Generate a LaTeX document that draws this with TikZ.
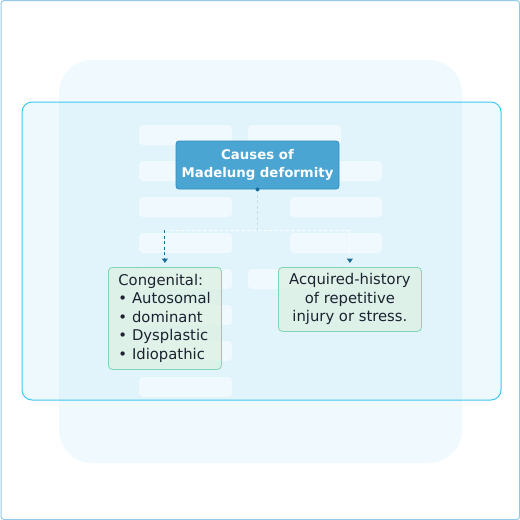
\documentclass[tikz,border=0pt]{standalone}
\usepackage{fontspec}
\setmainfont{DejaVu Sans}
\usetikzlibrary{arrows.meta,calc}
\definecolor{framec}{HTML}{92C8E8}
\definecolor{bgpanel}{HTML}{F0F9FD}
\definecolor{widefill}{RGB}{170,225,245}
\definecolor{wideline}{HTML}{3CC8F0}
\definecolor{titlefill}{HTML}{45A2D2}
\definecolor{titleline}{HTML}{2F8CBE}
\definecolor{childfill}{RGB}{220,240,225}
\definecolor{childline}{HTML}{80D6B4}
\definecolor{txt}{HTML}{1C2230}
\definecolor{darkc}{HTML}{1A6F9A}
\definecolor{lightc}{HTML}{C2DCE8}
\tikzset{
  ghost/.style={fill=white, fill opacity=0.5, draw=none, rounded corners=4pt},
  titlebox/.style={fill=titlefill, fill opacity=0.96, draw=titleline, line width=0.8pt,
    rounded corners=3pt, text opacity=1, text=white, align=center,
    font=\fontsize{13.3}{18}\selectfont\bfseries, minimum width=163pt, minimum height=48pt, inner sep=0pt},
  childbox/.style={fill=childfill, fill opacity=0.7, draw=childline, draw opacity=1, line width=0.8pt,
    rounded corners=4pt, text opacity=1, text=txt,
    font=\fontsize{14.8}{18.5}\selectfont, inner sep=0pt},
  darkdash/.style={draw=darkc, line width=1pt, dash pattern=on 3pt off 2.5pt},
  lightdash/.style={draw=lightc, line width=1pt, dash pattern=on 3pt off 2.5pt},
  whitedash/.style={draw=white, draw opacity=0.85, line width=1pt, dash pattern=on 3pt off 2.5pt},
  tip/.style={-{Triangle[width=6pt,length=4.5pt,fill=darkc,color=darkc]}, shorten >=4pt},
}
\begin{document}
\begin{tikzpicture}[x=1pt,y=-1pt]
\useasboundingbox (0,0) rectangle (520,520);
% outer frame
\draw[framec, line width=1pt, rounded corners=3pt] (1,0.5) rectangle (519.5,519.5);
% background panel
\fill[bgpanel, rounded corners=33pt] (59,60) rectangle (462,463);
% wide panel
\fill[widefill, fill opacity=0.2, rounded corners=10pt] (22,102) rectangle (501,400);
\draw[wideline, line width=1pt, rounded corners=10pt] (22,102) rectangle (501,400);
% ghost boxes, left column
\foreach \yy in {125,161,197,233,269,305,341,377}
  \fill[ghost] (139,\yy) rectangle (232,\yy+20);
% ghost boxes, right column
\fill[ghost] (248,125) rectangle (341,145);
\foreach \yy in {161,197,233}
  \fill[ghost] (290,\yy) rectangle (382,\yy+20);
\fill[ghost] (248,269) rectangle (341,289);
% nodes
\node[titlebox] (title) at (257.5,165) {Causes of\\Madelung deformity};
\node[childbox, anchor=north west, minimum width=113pt, minimum height=102pt,
  text width=113pt, align=left, inner xsep=0pt] (cong) at (108,267)
  {\hspace*{10pt}Congenital:\\\hspace*{10pt}• Autosomal\\\hspace*{10pt}• dominant\\\hspace*{10pt}• Dysplastic\\\hspace*{10pt}• Idiopathic};
\node[childbox, anchor=north west, minimum width=143pt, minimum height=64pt,
  align=center] (acq) at (278,267)
  {Acquired-history\\of repetitive\\injury or stress.};
% connectors
\coordinate (j) at ($(title.south)+(0,41)$);
\draw[lightdash] (title.south) -- (j);
\draw[whitedash, rounded corners=3pt] (cong.north |- j) -- (acq.north |- j);
\draw[darkdash, tip] (cong.north |- j) -- (cong.north);
\draw[whitedash] (acq.north |- j) -- ($(acq.north)+(0,-6)$);
\draw[darkdash, tip, dash pattern=on 0pt off 0pt] ($(acq.north)+(0,-6)$) -- (acq.north);
\fill[darkc] (title.south) circle (2pt);
\end{tikzpicture}
\end{document}
